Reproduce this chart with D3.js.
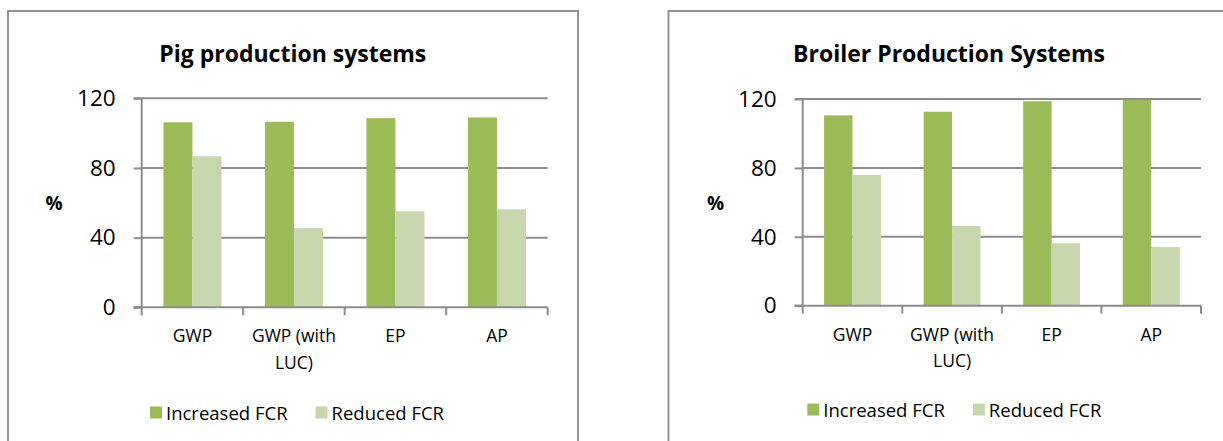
<!DOCTYPE html>
<html>
<head>
<meta charset="utf-8">
<script src="https://cdn.jsdelivr.net/npm/d3@7"></script>
<style>
  html, body { margin: 0; padding: 0; background: #fff; }
  svg { display: block; }
  text { font-family: "Open Sans", "Noto Sans", "DejaVu Sans", sans-serif; fill: #000; }
</style>
</head>
<body>
<svg id="chart" width="1223" height="441"></svg>
<script>
// ---- data ----
const categories = ["GWP", "GWP (with LUC)", "EP", "AP"];
const seriesNames = ["Increased FCR", "Reduced FCR"];
const yTicks = [0, 40, 80, 120];
const yAxisLabel = "%";

const pigTitle = "Pig production systems";
const pigIncreased = [106.2, 106.5, 108.6, 109.0];
const pigReduced = [86.7, 45.5, 55.1, 56.2];

const broilerTitle = "Broiler Production Systems";
const broilerIncreased = [110.5, 112.6, 118.7, 119.4];
const broilerReduced = [75.9, 46.3, 36.2, 34.1];

// ---- styles / layout ----
const colors = ["#9bbb59", "#c7d6ac"];
const gridColor = "#8c8c8c";

const svg = d3.select("#chart");

function drawChart(cfg) {
  const g = svg.append("g");
  // frame
  g.append("rect")
    .attr("x", cfg.frame.x).attr("y", cfg.frame.y)
    .attr("width", cfg.frame.w).attr("height", cfg.frame.h)
    .attr("fill", "none").attr("stroke", "#939393").attr("stroke-width", 2);

  const x0 = d3.scaleBand().domain(categories).range([cfg.plot.left, cfg.plot.right]).padding(0);
  const x1 = d3.scaleBand().domain(seriesNames).range([0, x0.bandwidth()])
    .paddingInner(0).paddingOuter(0.75);
  const y = d3.scaleLinear().domain([0, 120]).range([cfg.plot.bottom, cfg.plot.top]);

  // gridlines
  g.append("g").selectAll("line").data(yTicks.filter(d => d > 0)).join("line")
    .attr("x1", cfg.plot.left).attr("x2", cfg.plot.right)
    .attr("y1", d => y(d)).attr("y2", d => y(d))
    .attr("stroke", gridColor).attr("stroke-width", 2);

  // bars
  const values = [cfg.inc, cfg.red];
  const grp = g.append("g").selectAll("g").data(categories).join("g")
    .attr("transform", d => `translate(${x0(d)},0)`);
  grp.selectAll("rect").data((c, i) => seriesNames.map((s, k) => ({ s, k, v: values[k][i] })))
    .join("rect")
    .attr("x", d => x1(d.s)).attr("width", x1.bandwidth())
    .attr("y", d => y(d.v)).attr("height", d => y(0) - y(d.v))
    .attr("fill", d => colors[d.k]);

  // y axis
  const yAxis = d3.axisLeft(y).tickValues(yTicks).tickSize(8).tickPadding(18);
  const ya = g.append("g").attr("transform", `translate(${cfg.plot.left},0)`).call(yAxis);
  ya.select(".domain").attr("stroke", gridColor).attr("stroke-width", 2)
    .attr("d", `M-8,${y(120)}H0V${y(0)}H-8`);
  ya.selectAll(".tick line").attr("stroke", gridColor).attr("stroke-width", 2);
  ya.selectAll(".tick text").attr("font-size", 22.5).attr("fill", "#000")
    .attr("font-family", "'Open Sans', sans-serif");

  // x axis
  const xAxis = d3.axisBottom(x0).tickSize(0).tickPadding(0);
  const xa = g.append("g").attr("transform", `translate(0,${y(0)})`).call(xAxis);
  xa.select(".domain").remove();
  xa.append("line").attr("x1", cfg.plot.left - 8).attr("x2", cfg.plot.right)
    .attr("stroke", gridColor).attr("stroke-width", 2);
  const bounds = categories.map(c => x0(c)).concat([cfg.plot.right]);
  xa.selectAll(".bound").data(bounds).join("line").attr("class", "bound")
    .attr("x1", d => d).attr("x2", d => d).attr("y1", 0).attr("y2", 8)
    .attr("stroke", gridColor).attr("stroke-width", 2);
  xa.selectAll(".tick text").attr("font-size", 17.5).attr("fill", "#000")
    .attr("font-family", "'Open Sans', sans-serif")
    .attr("y", cfg.catBaseline - y(0)).attr("dy", 0)
    .each(function (d) { wrap(d3.select(this), x0.bandwidth() - 6, 26.5); });

  // y axis title
  g.append("text").attr("x", cfg.pct.x).attr("y", cfg.pct.y)
    .attr("text-anchor", "middle").attr("font-weight", "bold").attr("font-size", 19)
    .text(yAxisLabel);

  // title
  g.append("text").attr("x", cfg.title.x).attr("y", cfg.title.y)
    .attr("text-anchor", "middle").attr("font-weight", "bold").attr("font-size", 23)
    .text(cfg.titleText);

  // legend
  const lg = g.append("g").attr("transform", `translate(${cfg.legend.x},${cfg.legend.y})`);
  let cx = 0;
  seriesNames.forEach((s, k) => {
    lg.append("rect").attr("x", cx).attr("y", -6).attr("width", 12).attr("height", 12)
      .attr("fill", colors[k]);
    const t = lg.append("text").attr("x", cx + 16).attr("y", 7)
      .attr("font-size", 18.5).text(s);
    cx += 16 + t.node().getComputedTextLength() + 28;
  });
}

function wrap(text, width, lineHeight) {
  const words = text.text().split(/\s+/);
  const yPos = text.attr("y");
  text.text(null);
  let line = [];
  let lineNo = 0;
  let tspan = text.append("tspan").attr("x", 0).attr("y", yPos);
  words.forEach(w => {
    line.push(w);
    tspan.text(line.join(" "));
    if (tspan.node().getComputedTextLength() > width && line.length > 1) {
      line.pop();
      tspan.text(line.join(" "));
      line = [w];
      lineNo++;
      tspan = text.append("tspan").attr("x", 0).attr("y", +yPos + lineNo * lineHeight).text(w);
    }
  });
}

drawChart({
  titleText: pigTitle, inc: pigIncreased, red: pigReduced,
  frame: { x: 8, y: 11, w: 570, h: 450 },
  plot: { left: 141.7, right: 547.7, top: 98.3, bottom: 307.3 },
  catBaseline: 342.5,
  pct: { x: 54, y: 210 },
  title: { x: 292.8, y: 62 },
  legend: { x: 150, y: 412.5 }
});

drawChart({
  titleText: broilerTitle, inc: broilerIncreased, red: broilerReduced,
  frame: { x: 668.5, y: 11, w: 600, h: 450 },
  plot: { left: 802.7, right: 1201, top: 99, bottom: 305.7 },
  catBaseline: 340.7,
  pct: { x: 715.5, y: 210 },
  title: { x: 949, y: 62 },
  legend: { x: 807.3, y: 409.5 }
});
</script>
</body>
</html>
